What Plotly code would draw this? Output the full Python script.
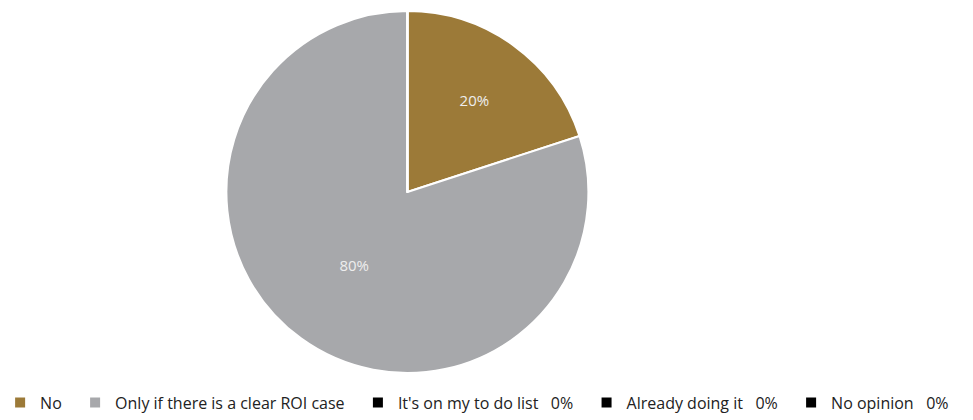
import plotly.graph_objects as go

# Survey answers and shares (percent)
answers = ["No", "Only if there is a clear ROI case", "It's on my to do list", "Already doing it", "No opinion"]
shares = [20, 80, 0, 0, 0]
colors = ["#9c7a38", "#a7a8ab", "#000000", "#000000", "#000000"]

NB = "\u00a0"
# Legend entries show the share for the empty categories
legend_labels = [
    (a if s > 0 else f"{a}{NB * 3}{s}%") + NB * 2 for a, s in zip(answers, shares)
]

fig = go.Figure(
    go.Pie(
        labels=legend_labels,
        values=shares,
        sort=False,
        direction="clockwise",
        rotation=0,
        marker=dict(colors=colors, line=dict(color="#ffffff", width=2)),
        texttemplate="%{percent:.0%}",
        textposition="inside",
        insidetextfont=dict(color="#eeeeee", size=15, family="Open Sans"),
        hole=0,
        domain=dict(x=[0, 0.8326], y=[0, 1]),
    )
)

fig.update_layout(
    width=973,
    height=420,
    margin=dict(l=0, r=0, t=11, b=45),
    paper_bgcolor="white",
    plot_bgcolor="white",
    font=dict(family="Open Sans", size=16, color="#222222"),
    showlegend=True,
    legend=dict(
        orientation="h",
        x=-0.004,
        xanchor="left",
        y=-0.035,
        yanchor="top",
        font=dict(size=16, color="#222222"),
        itemclick=False,
    ),
)

fig.write_html("out.html")
